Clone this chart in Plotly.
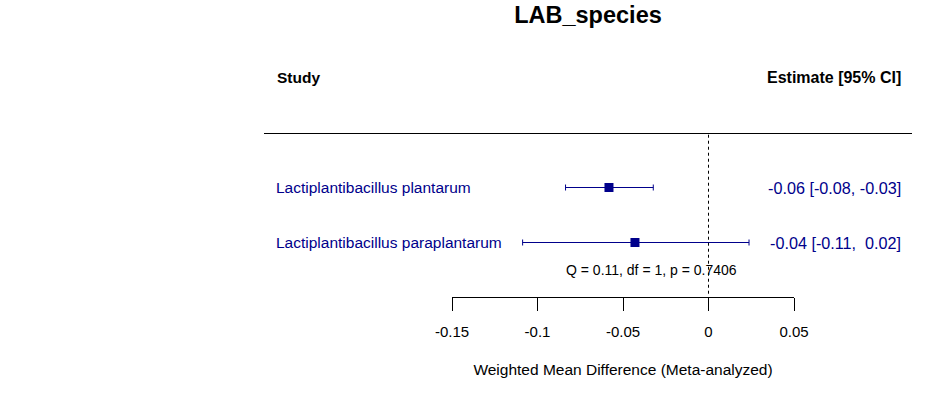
import plotly.graph_objects as go

# ---- data ----
studies = ["Lactiplantibacillus plantarum", "Lactiplantibacillus paraplantarum"]
estimates = [-0.0582, -0.0430]
ci_lower = [-0.0836, -0.1087]
ci_upper = [-0.0323, 0.0237]
row_pos = [2, 1]
tick_vals = [-0.15, -0.10, -0.05, 0.0, 0.05]
tick_text = ["-0.15", "-0.1", "-0.05", "0", "0.05"]
het_text = "Q = 0.11, df = 1, p = 0.7406"
title_text = "LAB_species"
xlabel = "Weighted Mean Difference (Meta-analyzed)"

W, H = 937, 393
# plot area in page pixels: x 452..794, y 133..297
ML = 452
MR = W - 794
MT = 133
MB = H - 297
pw = W - ML - MR
ph = H - MT - MB
ROW_PX = 55.0                      # pixel spacing between study rows
y0 = 0.5 / ROW_PX
y_range = [y0, y0 + ph / ROW_PX]


def px2paper(px):
    return (px - ML) / pw


def py2paper(py):
    return (297 - py) / ph


NAVY = "#00008B"
FONT = "Liberation Sans, Arial, sans-serif"
LEFT_X = 274     # left edge of study-label column (compensates annotation padding)
RIGHT_X = 903    # right edge of estimate column

fig = go.Figure()
fig.add_trace(go.Scatter(
    x=estimates, y=row_pos, mode="markers",
    marker=dict(symbol="square", size=9, color=NAVY),
    error_x=dict(type="data", symmetric=False,
                 array=[u - e for u, e in zip(ci_upper, estimates)],
                 arrayminus=[e - l for e, l in zip(estimates, ci_lower)],
                 color=NAVY, thickness=1, width=3),
    showlegend=False, hoverinfo="skip", cliponaxis=False,
))

# reference line at 0
fig.add_shape(type="line", xref="x", yref="paper", x0=0, x1=0, y0=0.02, y1=1,
              line=dict(color="black", width=1, dash="dot"))
# header separator line
fig.add_shape(type="line", xref="paper", yref="paper",
              x0=px2paper(264), x1=px2paper(912), y0=1 - 0.5 / ph, y1=1 - 0.5 / ph,
              line=dict(color="black", width=1))

ann = []
for s, e, l, u, r in zip(studies, estimates, ci_lower, ci_upper, row_pos):
    ann.append(dict(x=px2paper(LEFT_X), y=r, xref="paper", yref="y", text=s,
                    xanchor="left", yanchor="middle", showarrow=False,
                    font=dict(family=FONT, size=15.5, color=NAVY)))
    est_txt = f"{e:.2f} [{l:.2f}, {u:5.2f}]".replace(" ", "\u00a0")
    ann.append(dict(x=px2paper(RIGHT_X), y=r, xref="paper", yref="y", text=est_txt,
                    xanchor="right", yanchor="middle", showarrow=False,
                    font=dict(family=FONT, size=16.2, color=NAVY)))

ann.append(dict(x=px2paper(LEFT_X + 1), y=py2paper(78), xref="paper", yref="paper",
                text="<b>Study</b>", xanchor="left", yanchor="middle", showarrow=False,
                font=dict(family=FONT, size=15.5, color="black")))
ann.append(dict(x=px2paper(RIGHT_X), y=py2paper(78), xref="paper", yref="paper",
                text="<b>Estimate [95% CI]</b>", xanchor="right", yanchor="middle", showarrow=False,
                font=dict(family=FONT, size=16, color="black")))
ann.append(dict(x=px2paper(651.5), y=py2paper(270), xref="paper", yref="paper",
                text=het_text, xanchor="center", yanchor="middle", showarrow=False,
                font=dict(family=FONT, size=14, color="black")))

fig.update_layout(
    width=W, height=H,
    margin=dict(l=ML, r=MR, t=MT, b=MB),
    paper_bgcolor="white", plot_bgcolor="white",
    title=dict(text=f"<b>{title_text}</b>", x=588 / W, xref="container",
               y=1 - 15 / H, yref="container", xanchor="center", yanchor="middle",
               font=dict(family=FONT, size=23.5, color="black")),
    annotations=ann,
    hovermode=False,
    xaxis=dict(range=[-0.15, 0.05], tickvals=tick_vals, ticktext=tick_text,
               showline=True, linecolor="black", linewidth=1,
               ticks="outside", ticklen=13, tickcolor="black", tickwidth=1,
               showgrid=False, zeroline=False, ticklabelstandoff=8,
               tickfont=dict(family=FONT, size=15, color="black"),
               title=dict(text=xlabel, standoff=25,
                          font=dict(family=FONT, size=15.5, color="black"))),
    yaxis=dict(range=y_range, visible=False, showgrid=False, zeroline=False),
)

fig.write_html("out.html", config={"displayModeBar": False},
               post_script="document.body.style.margin='0';document.body.style.overflow='hidden';")
